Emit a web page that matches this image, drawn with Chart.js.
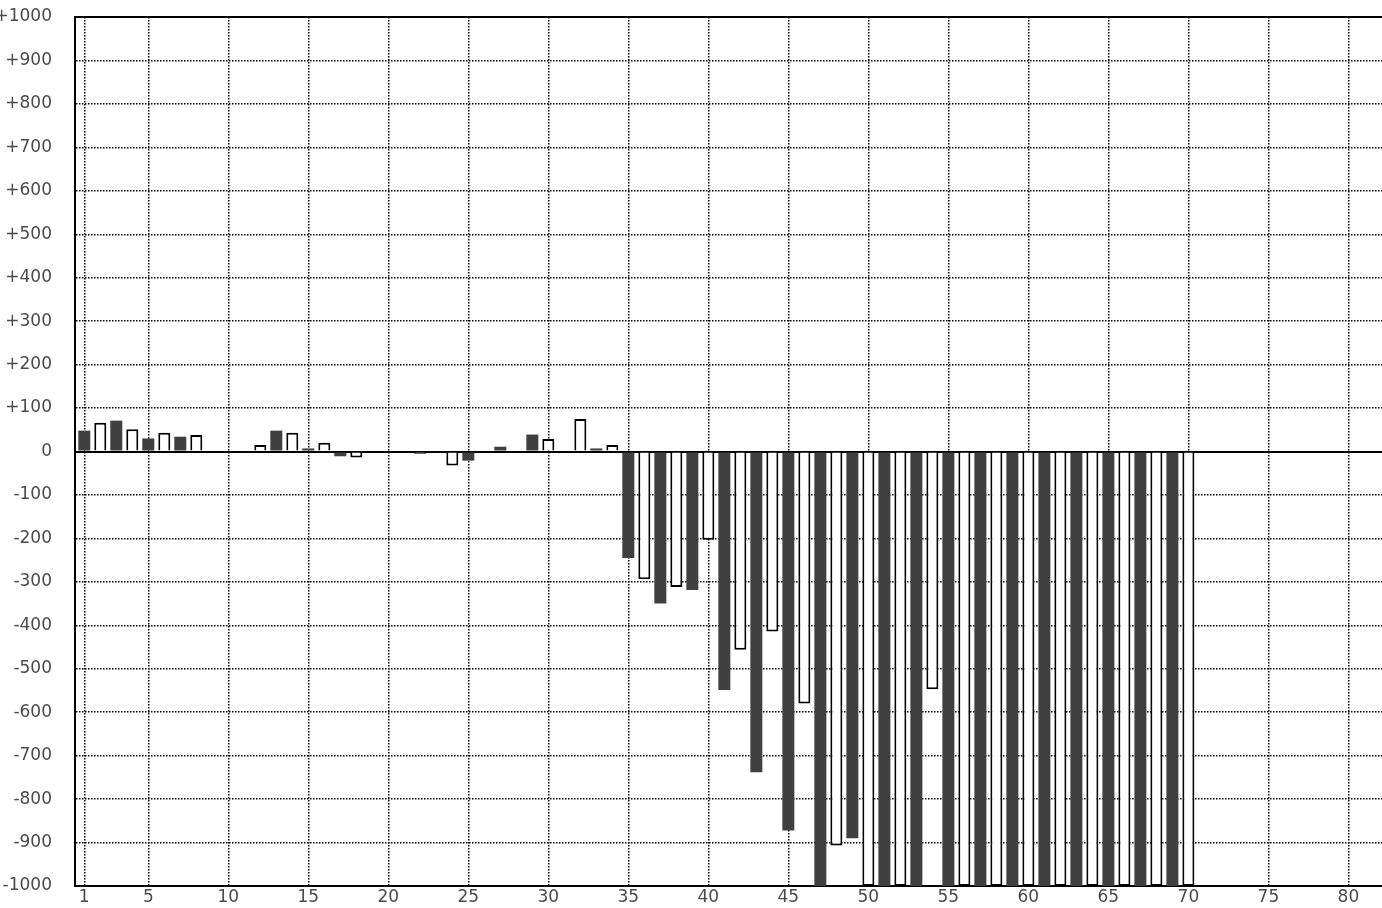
<!DOCTYPE html>
<html>
<head>
<meta charset="utf-8">
<title>Daily bars</title>
<script src="https://cdn.jsdelivr.net/npm/chart.js@4/dist/chart.umd.min.js"></script>
<style>
    html, body { margin: 0; padding: 0; background: #fff; }
    #wrap { width: 1382px; height: 908px; }
</style>
</head>
<body>
<div id="wrap"><canvas id="barChart" width="1382" height="908"></canvas></div>
<script>
// Day numbers along the bottom axis
const days = [
    1, 2, 3, 4, 5, 6, 7, 8, 9, 10,
    11, 12, 13, 14, 15, 16, 17, 18, 19, 20,
    21, 22, 23, 24, 25, 26, 27, 28, 29, 30,
    31, 32, 33, 34, 35, 36, 37, 38, 39, 40,
    41, 42, 43, 44, 45, 46, 47, 48, 49, 50,
    51, 52, 53, 54, 55, 56, 57, 58, 59, 60,
    61, 62, 63, 64, 65, 66, 67, 68, 69, 70
];

// Value for each day (null = no bar drawn)
const values = [
    48, 66, 71, 51, 30, 43, 34, 38, null, null,
    -2, 15, 48, 43, 7, 20, -11, -14, null, null,
    null, -5, -2, -32, -21, null, 11, null, 39, 29,
    null, 75, 7, 15, -245, -294, -350, -312, -319, -203,
    -549, -456, -738, -414, -872, -580, -1000, -907, -890, -1000,
    -1000, -1000, -1000, -547, -1000, -1000, -1000, -1000, -1000, -1000,
    -1000, -1000, -1000, -1000, -1000, -1000, -1000, -1000, -1000, -1000
];

// Tick labels
const xTicks = [1, 5, 10, 15, 20, 25, 30, 35, 40, 45, 50, 55, 60, 65, 70, 75, 80];
const yTicks = [-1000, -900, -800, -700, -600, -500, -400, -300, -200, -100, 0,
    100, 200, 300, 400, 500, 600, 700, 800, 900, 1000];

document.addEventListener('DOMContentLoaded', function() {
    const ctx = document.getElementById('barChart').getContext('2d');

    const points = days.map((d, i) => ({ x: d, y: values[i] }));

    // odd days are filled dark, even days are open boxes
    const isOdd = (c) => c.raw && c.raw.x % 2 === 1;
    // the zero line and the top edge are solid, the rest dotted
    const isSolid = (c) => c.tick && (c.tick.value === 0 || c.tick.value === 1000);

    const tickFont = { family: 'DejaVu Sans', size: 17 };

    new Chart(ctx, {
        type: 'bar',
        data: {
            datasets: [{
                data: points,
                backgroundColor: (c) => isOdd(c) ? '#404040' : '#ffffff',
                borderColor: '#000000',
                borderWidth: (c) => isOdd(c) ? 0 : 2,
                barPercentage: 0.75,
                categoryPercentage: 1
            }]
        },
        options: {
            responsive: false,
            animation: false,
            layout: { padding: { top: 17, left: 0, right: 0, bottom: 0 } },
            plugins: {
                legend: { display: false },
                tooltip: { enabled: false }
            },
            scales: {
                x: {
                    type: 'linear',
                    offset: false,
                    min: 0.42,
                    max: 82.1,
                    afterBuildTicks: (scale) => {
                        scale.ticks = xTicks.map(v => ({ value: v }));
                    },
                    afterFit: (scale) => { scale.height = 22; },
                    ticks: {
                        autoSkip: false,
                        maxRotation: 0,
                        padding: 1,
                        color: '#4a4a4a',
                        font: tickFont,
                        callback: (v) => String(v)
                    },
                    grid: {
                        offset: false,
                        color: '#000000',
                        lineWidth: 1.5,
                        drawTicks: false
                    },
                    border: { display: true, color: '#000000', width: 2, dash: [1.5, 1.5] }
                },
                y: {
                    min: -1000,
                    max: 1000,
                    afterBuildTicks: (scale) => {
                        scale.ticks = yTicks.map(v => ({ value: v }));
                    },
                    afterFit: (scale) => { scale.width = 75; },
                    ticks: {
                        padding: 0,
                        color: '#4a4a4a',
                        font: tickFont,
                        callback: (v) => v > 0 ? '+' + v : String(v)
                    },
                    grid: {
                        color: '#000000',
                        lineWidth: (c) => isSolid(c) ? 2 : 1.5,
                        drawTicks: true,
                        tickLength: 23,
                        tickColor: 'rgba(0,0,0,0)'
                    },
                    border: {
                        display: true,
                        color: '#000000',
                        width: 2,
                        dash: (c) => isSolid(c) ? [] : [1.5, 1.5]
                    }
                }
            }
        }
    });
});
</script>
</body>
</html>
